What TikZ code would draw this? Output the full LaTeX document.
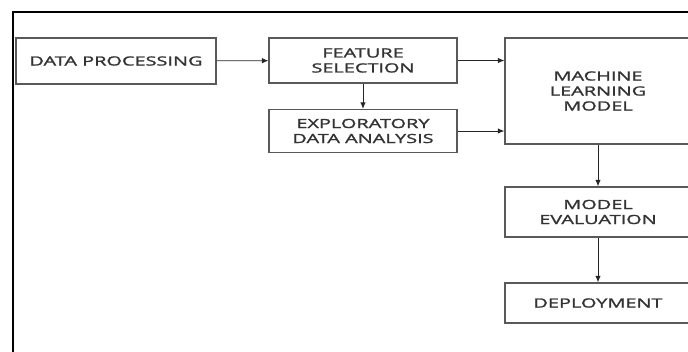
\documentclass[tikz,border=0pt]{standalone}
\usepackage{fontspec}
\setmainfont[FakeStretch=1.58,FakeBold=1.6]{Open Sans}
\usetikzlibrary{positioning,arrows.meta}

\begin{document}
\begin{tikzpicture}[x=1pt,y=-1pt,
  stage/.style={draw=black!65,line width=1.2pt,fill=white,text=black!80,
    align=center,inner sep=2pt,
    font=\fontsize{12.6}{15}\selectfont},
  flow/.style={-{Latex[length=6.5pt,width=5.5pt]},draw=black!85,line width=0.9pt}]

  \useasboundingbox (0,0) rectangle (688,351);
  \clip (0,0) rectangle (688,351);

  % outer frame (cut off at the right and bottom)
  \draw [line width=2pt,black] (13,12) rectangle (720,380);

  % left column
  \node [stage,minimum width=200,minimum height=46] (dp) at (116,61)
    {DATA PROCESSING};

  % middle column
  \node [stage,minimum width=188,minimum height=45] (fs) at (363,60.5)
    {FEATURE\\SELECTION};
  \node [stage,minimum width=188,minimum height=43] (eda) at (363,131)
    {EXPLORATORY\\DATA ANALYSIS};

  % right column
  \node [stage,minimum width=186,minimum height=106] (ml) at (598,91)
    {MACHINE\\LEARNING\\MODEL};
  \node [stage,minimum width=186,minimum height=50] (eval) at (598,212)
    {MODEL\\EVALUATION};
  \node [stage,minimum width=186,minimum height=40] (dep) at (598,303)
    {DEPLOYMENT};

  % connections
  \draw [flow] (dp) -- (fs);
  \draw [flow] (fs) -- (eda);
  \draw [flow] (fs.east) -- (fs.east -| ml.west);
  \draw [flow] (eda.east) -- (eda.east -| ml.west);
  \draw [flow] (ml) -- (eval);
  \draw [flow] (eval) -- (dep);
\end{tikzpicture}
\end{document}
